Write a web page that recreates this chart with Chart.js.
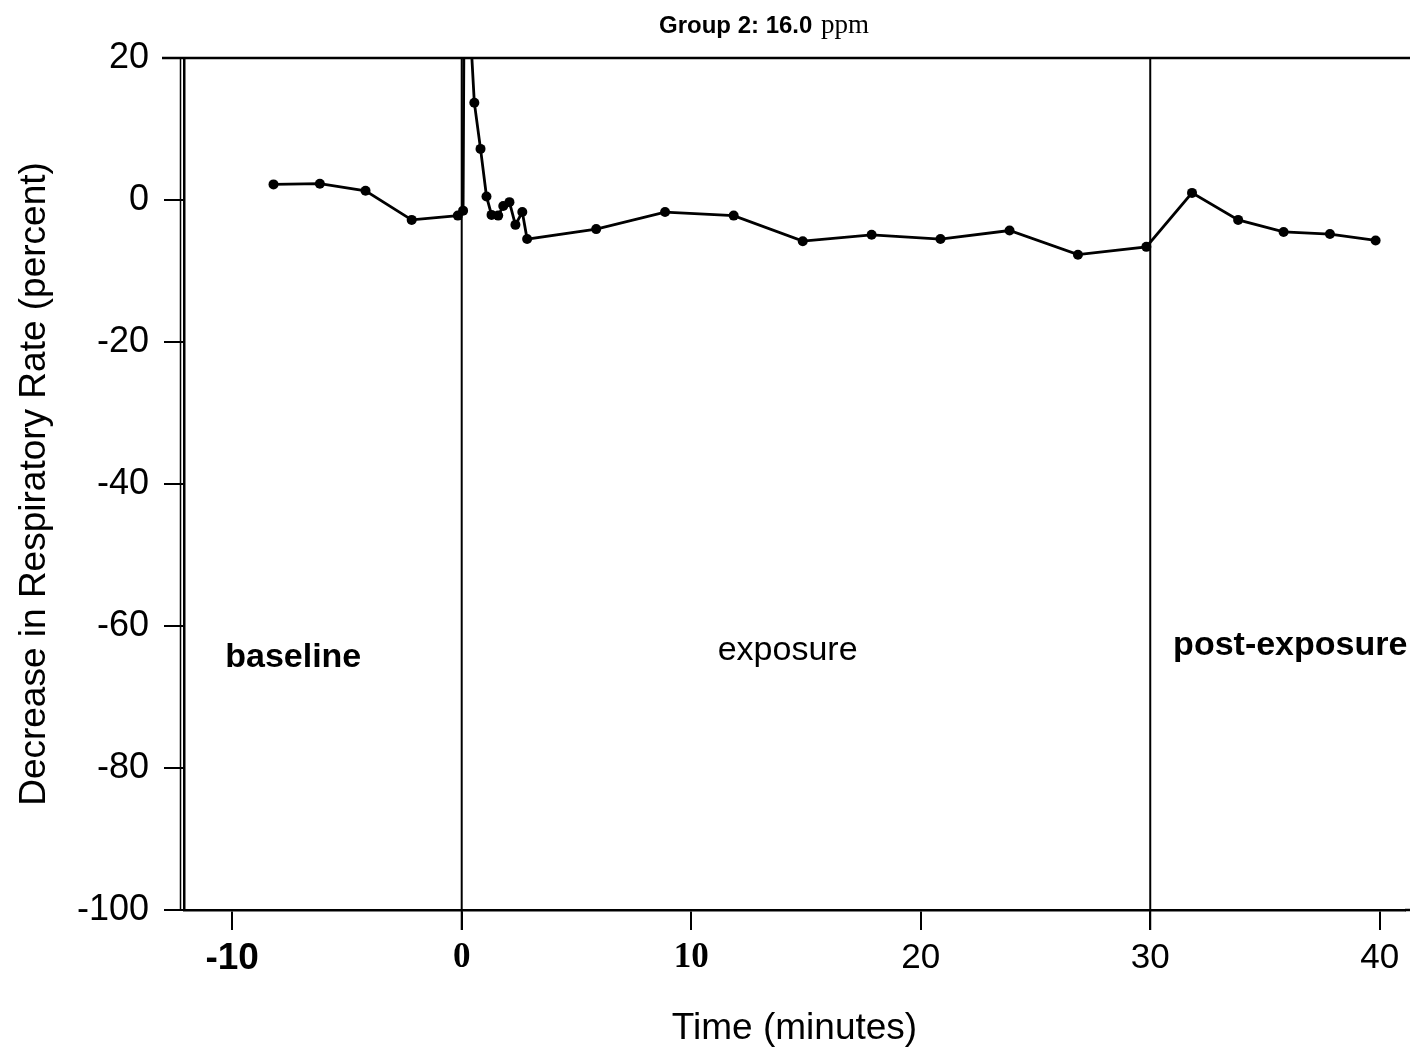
<!DOCTYPE html>
<html>
<head>
<meta charset="utf-8">
<script src="https://cdn.jsdelivr.net/npm/chart.js@4.4.1/dist/chart.umd.min.js"></script>
<style>
  html, body { margin: 0; padding: 0; background: #fff; }
  #wrap { width: 1410px; height: 1054px; position: relative; }
</style>
</head>
<body>
<div id="wrap"><canvas id="c" width="1410" height="1054"></canvas></div>
<script>
// ---- data ----
const timeMinutes = [-8.20, -6.18, -4.19, -2.18, -0.17, 0.06, 0.12, 0.55, 0.82, 1.08, 1.30, 1.59, 1.81, 2.08, 2.34, 2.64, 2.85,
  5.86, 8.86, 11.85, 14.86, 17.86, 20.86, 23.87, 26.85, 29.83, 31.82, 33.83, 35.81, 37.83, 39.82];
const decreasePct = [2.2, 2.3, 1.3, -2.8, -2.2, -1.5, 39, 13.7, 7.2, 0.5, -2.1, -2.2, -0.85, -0.3, -3.5, -1.7, -5.5,
  -4.1, -1.7, -2.2, -5.8, -4.9, -5.5, -4.3, -7.7, -6.6, 1.0, -2.8, -4.5, -4.8, -5.7];
const xTickValues = [-10, 0, 10, 20, 30, 40];
const xTickStyle = ['sansBold', 'serifBold', 'serifBold', 'sans', 'sans', 'sans'];
const yTickValues = [20, 0, -20, -40, -60, -80, -100];
const phaseBoundaries = [0, 30];
const phaseLabels = ['baseline', 'exposure', 'post-exposure'];
const phaseLabelX = [-7.34, 14.2, 36.1];
const phaseLabelY = [-64.4, -63.5, -62.7];
const phaseLabelBold = [true, false, true];
const titleMain = 'Group 2: 16.0';
const titleUnit = 'ppm';

const points = timeMinutes.map((t, i) => ({ x: t, y: decreasePct[i] }));

const SANS = "'Liberation Sans', Arial, sans-serif";
const SERIF = "'Liberation Serif', 'Times New Roman', serif";
const tickFonts = {
  sansBold: { family: SANS, size: 37, weight: 'bold', style: 'normal', lineHeight: 1.2 },
  serifBold: { family: SERIF, size: 35, weight: 'bold', style: 'normal', lineHeight: 1.2 },
  sans: { family: SANS, size: 35, weight: 'normal', style: 'normal', lineHeight: 1.2 }
};

const decorPlugin = {
  id: 'decor',
  afterDatasetsDraw(chart) {
    const { ctx, chartArea: a, scales: { x, y } } = chart;
    ctx.save();
    ctx.strokeStyle = '#000';
    ctx.lineWidth = 2.5;
    ctx.beginPath();
    ctx.moveTo(a.left - 22, a.top);
    ctx.lineTo(1410, a.top);
    ctx.stroke();
    ctx.beginPath();
    ctx.moveTo(a.right, a.bottom);
    ctx.lineTo(1410, a.bottom);
    ctx.stroke();
    ctx.lineWidth = 1.5;
    ctx.beginPath();
    ctx.moveTo(a.left - 3.5, a.top);
    ctx.lineTo(a.left - 3.5, a.bottom);
    ctx.stroke();
    ctx.lineWidth = 2;
    phaseBoundaries.forEach(v => {
      const px = x.getPixelForValue(v);
      ctx.beginPath();
      ctx.moveTo(px, a.top);
      ctx.lineTo(px, a.bottom + 20);
      ctx.stroke();
    });
    ctx.fillStyle = '#000';
    ctx.textAlign = 'center';
    ctx.textBaseline = 'middle';
    phaseLabels.forEach((s, i) => {
      ctx.font = (phaseLabelBold[i] ? 'bold ' : '') + '34px ' + SANS;
      ctx.fillText(s, x.getPixelForValue(phaseLabelX[i]), y.getPixelForValue(phaseLabelY[i]));
    });
    ctx.textAlign = 'left';
    ctx.textBaseline = 'alphabetic';
    const f1 = 'bold 24px ' + SANS;
    const f2 = '27px ' + SERIF;
    ctx.font = f1;
    const w1 = ctx.measureText(titleMain + ' ').width;
    ctx.font = f2;
    const w2 = ctx.measureText(titleUnit).width;
    const startX = 763 - (w1 + w2) / 2;
    ctx.font = f1;
    ctx.fillText(titleMain + ' ', startX, 33);
    ctx.font = f2;
    ctx.fillText(titleUnit, startX + w1 + 2, 33);
    ctx.restore();
  }
};

new Chart(document.getElementById('c'), {
  type: 'scatter',
  data: {
    datasets: [{
      data: points,
      showLine: true,
      borderColor: '#000',
      borderWidth: 2.8,
      backgroundColor: '#000',
      pointRadius: 5,
      pointHoverRadius: 5,
      pointBorderWidth: 0,
      tension: 0
    }]
  },
  options: {
    responsive: false,
    animation: false,
    events: [],
    layout: { padding: { top: 58, right: 0, bottom: 0, left: 0 } },
    plugins: { legend: { display: false }, tooltip: { enabled: false }, title: { display: false } },
    scales: {
      x: {
        type: 'linear',
        min: -12.1,
        max: 41.1,
        afterBuildTicks: s => { s.ticks = xTickValues.map(v => ({ value: v })); },
        afterFit: s => { s.height = 144; },
        grid: { display: true, drawOnChartArea: false, drawTicks: true, tickLength: 20, color: '#000', lineWidth: 2 },
        border: { display: true, color: '#000', width: 2.5 },
        ticks: {
          color: '#000',
          padding: 7,
          maxRotation: 0,
          autoSkip: false,
          callback: v => String(v),
          font: ctx => {
            const idx = xTickValues.indexOf(ctx.tick ? ctx.tick.value : NaN);
            const key = idx >= 0 ? xTickStyle[idx] : 'sans';
            return Object.assign({}, tickFonts[key]);
          }
        },
        title: {
          display: true,
          text: 'Time (minutes)',
          color: '#000',
          font: { family: SANS, size: 37, lineHeight: 1.2 },
          padding: { top: 0, bottom: 3 }
        }
      },
      y: {
        type: 'linear',
        min: -100,
        max: 20,
        afterBuildTicks: s => { s.ticks = yTickValues.map(v => ({ value: v })); },
        afterFit: s => { s.width = 184; },
        grid: { display: true, drawOnChartArea: false, drawTicks: true, tickLength: 20, color: '#000', lineWidth: 2 },
        border: { display: true, color: '#000', width: 2.5 },
        ticks: {
          color: '#000',
          padding: 15,
          autoSkip: false,
          callback: v => String(v),
          font: { family: SANS, size: 36 }
        },
        title: {
          display: true,
          text: 'Decrease in Respiratory Rate (percent)',
          color: '#000',
          font: { family: SANS, size: 37, lineHeight: 1.2 },
          padding: { top: 13, bottom: 0 }
        }
      }
    }
  },
  plugins: [decorPlugin]
});
</script>
</body>
</html>
